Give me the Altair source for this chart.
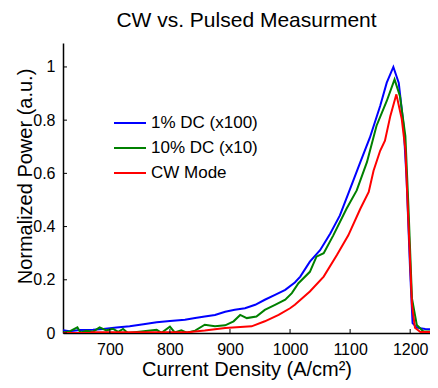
import altair as alt
import pandas as pd

series_names = ["1% DC (x100)", "10% DC (x10)", "CW Mode"]
series_colors = ["#0000FF", "#008000", "#FF0000"]

blue_x = [622, 633, 650, 672, 689, 711, 733, 756, 778, 800, 825, 842, 858, 875, 892, 908, 925,
          942, 958, 975, 992, 1008, 1017, 1033, 1050, 1067, 1083, 1100, 1117, 1133, 1150, 1161,
          1172, 1181, 1189, 1194, 1200, 1204, 1211, 1225, 1245]
blue_y = [0.010, 0.007, 0.011, 0.012, 0.015, 0.021, 0.025, 0.033, 0.040, 0.045, 0.050, 0.056,
          0.062, 0.068, 0.080, 0.087, 0.093, 0.106, 0.125, 0.143, 0.162, 0.190, 0.212, 0.268,
          0.311, 0.374, 0.442, 0.542, 0.642, 0.735, 0.853, 0.941, 1.000, 0.940, 0.780, 0.580,
          0.230, 0.037, 0.020, 0.015, 0.013]

green_x = [622, 633, 646, 651, 661, 672, 683, 694, 705, 714, 722, 730, 778, 786, 800, 808, 819,
           828, 842, 858, 875, 892, 906, 917, 928, 944, 958, 975, 992, 1003, 1014, 1033, 1044,
           1056, 1072, 1094, 1111, 1128, 1144, 1161, 1174, 1183, 1192, 1197, 1203, 1211, 1222,
           1245]
green_y = [0.002, 0.006, 0.021, 0.002, 0.008, 0.005, 0.021, 0.010, 0.016, 0.004, 0.015, 0.000,
           0.012, 0.001, 0.024, 0.002, 0.010, 0.001, 0.009, 0.031, 0.025, 0.029, 0.044, 0.068,
           0.056, 0.062, 0.087, 0.106, 0.125, 0.150, 0.187, 0.230, 0.287, 0.300, 0.367, 0.467,
           0.536, 0.642, 0.779, 0.872, 0.953, 0.890, 0.740, 0.480, 0.130, 0.030, 0.006, 0.005]

red_x = [622, 667, 670, 740, 830, 858, 892, 936, 958, 981, 1000, 1008, 1033, 1056, 1078, 1097,
         1117, 1131, 1139, 1150, 1158, 1167, 1177, 1186, 1192, 1197, 1203, 1208, 1217, 1245]
red_y = [0.000, 0.000, 0.003, 0.003, 0.003, 0.009, 0.019, 0.025, 0.044, 0.068, 0.093, 0.106,
         0.156, 0.212, 0.293, 0.367, 0.467, 0.530, 0.610, 0.685, 0.723, 0.816, 0.897, 0.804,
         0.690, 0.420, 0.106, 0.020, 0.004, 0.003]

x_ticks = [700, 800, 900, 1000, 1100, 1200]
y_ticks = [0, 0.2, 0.4, 0.6, 0.8, 1.0]

rows = []
for name, xs, ys in zip(series_names, [blue_x, green_x, red_x], [blue_y, green_y, red_y]):
    for xv, yv in zip(xs, ys):
        rows.append({"series": name, "j": xv, "p": yv})
df = pd.DataFrame(rows)

FONT = "Liberation Sans"
W, H = 367, 290

x_scale = alt.Scale(domain=[622, 1233], nice=False, zero=False)
y_scale = alt.Scale(domain=[0, 1.09], nice=False)

x_axis = alt.Axis(title="Current Density (A/cm²)", values=x_ticks, format="d", labelFontSize=16,
                  labelPadding=8, titleFontSize=20, titleY=42, titleBaseline="alphabetic")
y_axis = alt.Axis(title="Normalized Power (a.u.)", values=y_ticks, format=".1~f",
                  labelFontSize=16, labelPadding=8, titleFontSize=20, titleX=-32,
                  titleY=133, titleBaseline="alphabetic")

lines = alt.Chart(df).mark_line(strokeWidth=2, clip=True).encode(
    x=alt.X("j:Q", scale=x_scale, axis=x_axis),
    y=alt.Y("p:Q", scale=y_scale, axis=y_axis),
    color=alt.Color("series:N", scale=alt.Scale(domain=series_names, range=series_colors),
                    legend=alt.Legend(title=None, orient="none", legendX=50, legendY=63,
                                      symbolType="stroke", symbolStrokeWidth=2,
                                      symbolSize=1024, labelFontSize=17, labelFont=FONT,
                                      labelColor="black", labelOffset=4, rowPadding=-2,
                                      padding=0)),
)

xt = alt.Chart(pd.DataFrame({"j": x_ticks})).mark_rule(color="black", strokeWidth=1).encode(
    x=alt.X("j:Q", scale=x_scale, axis=x_axis),
    y=alt.value(H),
    y2=alt.value(H - 4),
)
yt = alt.Chart(pd.DataFrame({"p": y_ticks})).mark_rule(color="black", strokeWidth=1).encode(
    y=alt.Y("p:Q", scale=y_scale, axis=y_axis),
    x=alt.value(0),
    x2=alt.value(4),
)

chart = alt.layer(lines, xt, yt).properties(
    width=W, height=H,
    title=alt.TitleParams("CW vs. Pulsed Measurment", fontSize=21, font=FONT,
                          fontWeight="normal", color="black", baseline="alphabetic",
                          offset=15, dy=20, anchor="middle"),
    autosize=alt.AutoSizeParams(type="none"),
    padding={"left": 55, "top": 35, "right": 0, "bottom": 47},
).configure_view(stroke=None).configure_axis(
    grid=False, ticks=False, domainColor="black", domainWidth=1.5, labelColor="black",
    titleColor="black", labelFont=FONT, titleFont=FONT, titleFontWeight="normal",
)

chart.save("out.html", embed_options={"renderer": "svg", "actions": False})
